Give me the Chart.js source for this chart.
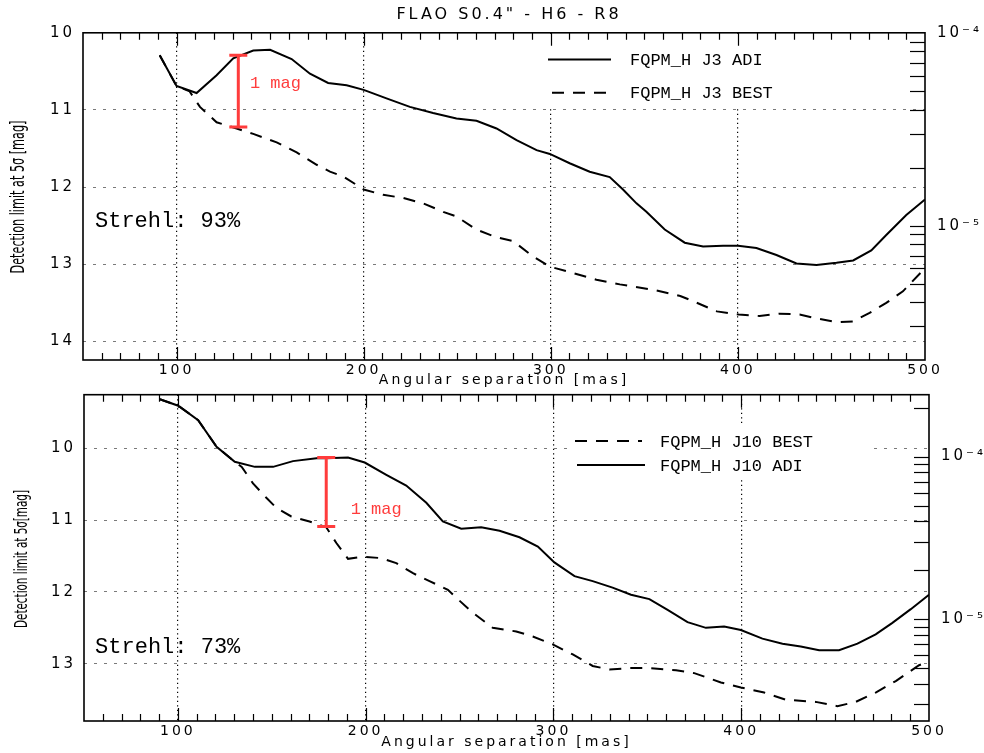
<!DOCTYPE html>
<html><head><meta charset="utf-8">
<script src="https://cdn.jsdelivr.net/npm/chart.js@4"></script>
<style>
html,body{margin:0;padding:0;background:#fff;}
#wrap{position:relative;width:984px;height:753px;}
canvas{position:absolute;left:0;top:0;}
</style></head><body>
<div id="wrap"><canvas id="cTop" width="984" height="753"></canvas><canvas id="cBot" width="984" height="753"></canvas></div>
<script>
// ---------- shared ----------
const chartTitle = 'FLAO S0.4" - H6 - R8';
const xTitle = 'Angular separation [mas]';
const xRange = [50, 500];
const xTickValues = [100, 200, 300, 400, 500];
const rightLabelValues = [1e-4, 1e-5];
const rightLabels = ['10\u207B\u2074', '10\u207B\u2075'];

// ---------- top panel (Strehl 93%) ----------
const topYTitle = 'Detection limit at 5\u03C3 [mag]';
const topStrehl = 'Strehl: 93%';
const topLabels = ['FQPM_H J3 ADI', 'FQPM_H J3 BEST'];
const topMagRange = [10, 14.24];
const topMagTicks = [10, 11, 12, 13, 14];
const topContrastRange = [2.01e-6, 1e-4];
const topAdiSep = [91, 100, 110.7, 121.4, 130.3, 141, 150, 161.5, 171.3, 181, 190.9, 200, 212.2, 224.7, 237.1, 249.6, 260.3, 271, 281.7, 292.4, 299.5, 310.1, 320.8, 331.5, 338.6, 345.8, 351.1, 360.9, 371.6, 381.4, 392.1, 400.1, 409.9, 420.6, 431.3, 442, 452.7, 461.6, 471.3, 479.3, 490, 500];
const topAdiMag = [10.29, 10.69, 10.78, 10.55, 10.33, 10.23, 10.22, 10.34, 10.53, 10.65, 10.68, 10.74, 10.85, 10.96, 11.04, 11.11, 11.14, 11.24, 11.39, 11.52, 11.57, 11.69, 11.80, 11.87, 12.03, 12.21, 12.32, 12.55, 12.72, 12.77, 12.76, 12.76, 12.79, 12.88, 12.99, 13.01, 12.98, 12.95, 12.82, 12.62, 12.36, 12.16];
const topBestSep = [91, 100, 107, 112.5, 121.4, 132.1, 141, 153.5, 164.2, 174.9, 182, 189, 200, 210.4, 221.1, 231.8, 242.5, 249.6, 260.3, 271, 279.9, 290.6, 299.5, 310.1, 324.4, 336.9, 354.7, 369.2, 376.3, 388.8, 400.4, 411.6, 422.3, 433, 441.9, 452.6, 461.5, 470.4, 479.3, 488.2, 500];
const topBestMag = [10.29, 10.69, 10.76, 10.96, 11.16, 11.24, 11.31, 11.42, 11.55, 11.71, 11.80, 11.86, 12.03, 12.10, 12.14, 12.21, 12.32, 12.38, 12.55, 12.65, 12.70, 12.90, 13.03, 13.10, 13.20, 13.26, 13.33, 13.41, 13.48, 13.61, 13.65, 13.67, 13.64, 13.65, 13.70, 13.75, 13.74, 13.63, 13.50, 13.35, 13.05];
const topBar = [133, 10.29, 11.22];      // separation, mag from, mag to
const topBarLabelPos = [139.2, 10.66];
const topStrehlPos = [56.4, 12.44];

// ---------- bottom panel (Strehl 73%) ----------
const botYTitle = 'Detection limit at 5\u03C3[mag]';
const botStrehl = 'Strehl: 73%';
const botLabels = ['FQPM_H J10 BEST', 'FQPM_H J10 ADI'];
const botMagRange = [9.256, 13.796];
const botMagTicks = [10, 11, 12, 13];
const botContrastRange = [2.37e-6, 2.4e-4];
const botBestSep = [90.4, 100.2, 110.8, 120.6, 130.3, 134, 140, 147.1, 152.4, 160.4, 170.1, 179, 184.4, 190.6, 198.6, 208.4, 216.3, 225.2, 234, 243.8, 248.2, 257.1, 267.7, 280.2, 289, 299.6, 310.3, 320.9, 329.8, 340.4, 351.1, 365.3, 375, 389.2, 399.8, 412.2, 423.8, 439.7, 451.2, 461, 471.6, 482.3, 494.7, 499];
const botBestMag = [9.32, 9.41, 9.61, 9.98, 10.19, 10.26, 10.49, 10.69, 10.83, 10.95, 11.02, 11.10, 11.32, 11.54, 11.51, 11.53, 11.60, 11.74, 11.85, 11.97, 12.08, 12.29, 12.50, 12.55, 12.62, 12.73, 12.87, 13.03, 13.08, 13.06, 13.06, 13.09, 13.13, 13.26, 13.33, 13.40, 13.50, 13.53, 13.59, 13.53, 13.40, 13.24, 13.02, 12.98];
const botAdiSep = [90.4, 100.2, 110.8, 120.6, 130.3, 141, 150.7, 161.3, 173.8, 179, 190.6, 199.5, 211, 221.6, 232.3, 241.1, 250.9, 261.5, 271.3, 281.9, 291.7, 300.5, 311.2, 320.9, 331.5, 341.3, 351.1, 360.8, 371.4, 381.2, 390.9, 399.8, 411.3, 422, 431.7, 441.5, 452.1, 461.9, 471.6, 480.5, 490.3, 500];
const botAdiMag = [9.32, 9.41, 9.61, 9.98, 10.19, 10.26, 10.26, 10.18, 10.14, 10.14, 10.13, 10.20, 10.37, 10.52, 10.76, 11.02, 11.12, 11.10, 11.15, 11.24, 11.37, 11.59, 11.78, 11.85, 11.94, 12.04, 12.10, 12.25, 12.42, 12.50, 12.48, 12.53, 12.65, 12.72, 12.76, 12.81, 12.81, 12.72, 12.59, 12.43, 12.24, 12.04];
const botBar = [179, 10.13, 11.09];
const botBarLabelPos = [192, 10.86];
const botStrehlPos = [55.9, 12.77];

// ---------- helpers ----------
const RED = '#ff3c3c';
const SOLID = [];
const DASH = [12, 9];
function pts(xs, ys) { return xs.map((x, i) => ({x: x, y: ys[i]})); }
function lineDs(label, xs, ys, dash) {
  return {label: label, data: pts(xs, ys), borderColor: '#000', borderWidth: 2,
          borderDash: dash, pointRadius: 0, tension: 0, fill: false, yAxisID: 'y'};
}
function rightMinorValues(range) {
  const v = [];
  for (let e = -7; e <= -3; e++) for (let m = 1; m <= 9; m++) {
    const val = m * Math.pow(10, e);
    if (val > range[0] * 1.0001 && val < range[1] * 0.9999) v.push(val);
  }
  return v;
}

function makePanel(id, p) {
  const plugin = {
    id: 'panel_' + id,
    beforeDraw(chart) { chart.ctx.letterSpacing = '3px'; },
    beforeDatasetsDraw(chart) {
      const {ctx, chartArea: a} = chart;
      const b = p.legendBox;
      ctx.save(); ctx.fillStyle = '#fff';
      ctx.fillRect(a.left + b[0], a.top + b[1], b[2], b[3]);
      ctx.restore();
    },
    afterDraw(chart) {
      const {ctx, chartArea: a} = chart;
      const sx = chart.scales.x, sy = chart.scales.y, s2 = chart.scales.y2;
      ctx.save();
      ctx.letterSpacing = '0px';
      ctx.setLineDash([]);
      ctx.strokeStyle = '#000';
      // x ticks (inward, top and bottom)
      ctx.lineWidth = 1.2;
      for (let v = xRange[0] + 10; v < xRange[1]; v += 10) {
        const px = Math.round(sx.getPixelForValue(v)) + 0.5;
        const len = (v % 100 === 0) ? 13 : 7;
        ctx.beginPath();
        ctx.moveTo(px, a.top); ctx.lineTo(px, a.top + len);
        ctx.moveTo(px, a.bottom); ctx.lineTo(px, a.bottom - len);
        ctx.stroke();
      }
      // right log ticks (inward)
      for (const v of rightMinorValues(p.contrastRange)) {
        const py = Math.round(s2.getPixelForValue(v)) + 0.5;
        ctx.beginPath(); ctx.moveTo(a.right, py); ctx.lineTo(a.right - 15, py); ctx.stroke();
      }
      // frame
      ctx.lineWidth = 1.6;
      ctx.strokeRect(a.left, a.top, a.right - a.left, a.bottom - a.top);
      // legend
      ctx.font = '17px "Liberation Mono", "DejaVu Sans Mono", monospace';
      ctx.fillStyle = '#000';
      ctx.textBaseline = 'middle';
      ctx.textAlign = 'left';
      p.legend.forEach((L) => {
        const ds = chart.data.datasets[L.ds];
        ctx.save();
        ctx.lineWidth = 2;
        ctx.setLineDash(ds.borderDash);
        ctx.beginPath();
        ctx.moveTo(a.left + L.x0, a.top + L.y);
        ctx.lineTo(a.left + L.x1, a.top + L.y);
        ctx.stroke();
        ctx.restore();
        ctx.fillText(ds.label, a.left + p.legendTextX, a.top + L.y + 1);
      });
      // 1 mag bar
      const bx = sx.getPixelForValue(p.bar[0]);
      const by1 = sy.getPixelForValue(p.bar[1]);
      const by2 = sy.getPixelForValue(p.bar[2]);
      ctx.strokeStyle = RED; ctx.lineWidth = 3;
      ctx.beginPath();
      ctx.moveTo(bx, by1); ctx.lineTo(bx, by2);
      ctx.moveTo(bx - 9, by1); ctx.lineTo(bx + 9, by1);
      ctx.moveTo(bx - 9, by2); ctx.lineTo(bx + 9, by2);
      ctx.stroke();
      ctx.fillStyle = RED;
      ctx.font = '17px "Liberation Mono", "DejaVu Sans Mono", monospace';
      ctx.fillText('1 mag', sx.getPixelForValue(p.barLabelPos[0]), sy.getPixelForValue(p.barLabelPos[1]));
      // Strehl
      ctx.fillStyle = '#000';
      ctx.font = '22px "Liberation Mono", "DejaVu Sans Mono", monospace';
      ctx.fillText(p.strehl, sx.getPixelForValue(p.strehlPos[0]), sy.getPixelForValue(p.strehlPos[1]));
      // y axis title (condensed)
      ctx.save();
      ctx.translate(p.yTitlePos[0], p.yTitlePos[1]);
      ctx.rotate(-Math.PI / 2);
      ctx.textAlign = 'center';
      ctx.textBaseline = 'middle';
      ctx.font = p.yTitleFont;
      const w = ctx.measureText(p.yTitle).width;
      ctx.scale(p.yTitleLen / w, 1);
      ctx.fillText(p.yTitle, 0, 0);
      ctx.restore();
      ctx.restore();
    }
  };

  return new Chart(document.getElementById(id), {
    type: 'line',
    data: {datasets: p.datasets},
    plugins: [plugin],
    options: {
      responsive: false,
      animation: false,
      devicePixelRatio: 1,
      events: [],
      layout: {padding: p.padding},
      plugins: {
        legend: {display: false},
        tooltip: {enabled: false},
        title: p.title ? {display: true, text: p.title, color: '#000',
                 font: {family: 'DejaVu Sans', size: 16, weight: 'normal'},
                 padding: {top: 5, bottom: 8.6}} : {display: false}
      },
      scales: {
        x: {
          type: 'linear', position: 'bottom', min: xRange[0], max: xRange[1],
          afterBuildTicks: (s) => { s.ticks = xTickValues.map(v => ({value: v})); },
          afterFit: (s) => { s.height = 32; s.paddingLeft = 0; s.paddingRight = 0; },
          ticks: {padding: 2, color: '#000', maxRotation: 0, autoSkip: false,
                  font: {family: 'DejaVu Sans', size: 14}, callback: (v) => String(v)},
          grid: {color: (c) => (c.tick && c.tick.value >= xRange[1]) ? 'rgba(0,0,0,0)' : '#000',
                 lineWidth: 1.2, drawTicks: false},
          border: {display: false, dash: [1.2, 3.3]},
          title: {display: true, text: xTitle, color: '#000',
                  font: {family: 'DejaVu Sans', size: 14}, padding: {top: 0, bottom: p.xTitlePad}}
        },
        y: {
          type: 'linear', position: 'left', reverse: true, min: p.magRange[0], max: p.magRange[1],
          afterBuildTicks: (s) => { s.ticks = p.magTicks.map(v => ({value: v})); },
          afterFit: (s) => { s.width = p.yWidth; s.paddingTop = 0; s.paddingBottom = 0; },
          ticks: {padding: 8, color: '#000', font: {family: 'DejaVu Sans', size: 15},
                  callback: (v) => String(v)},
          grid: {color: '#7a7a7a', lineWidth: 1, drawTicks: false},
          border: {display: false, dash: [3, 7]}
        },
        y2: {
          type: 'logarithmic', position: 'right', min: p.contrastRange[0], max: p.contrastRange[1],
          afterBuildTicks: (s) => { s.ticks = rightLabelValues.map(v => ({value: v})); },
          afterFit: (s) => { s.width = p.y2Width; s.paddingTop = 0; s.paddingBottom = 0; },
          ticks: {padding: 12, color: '#000', font: {family: 'DejaVu Sans', size: 15},
                  callback: (v, i) => rightLabels[i]},
          grid: {drawOnChartArea: false, drawTicks: false},
          border: {display: false}
        }
      }
    }
  });
}

makePanel('cTop', {
  title: chartTitle,
  padding: {top: 0, left: 34, right: 0, bottom: 361},
  yWidth: 49, y2Width: 59, xTitlePad: 3,
  magRange: topMagRange, magTicks: topMagTicks, contrastRange: topContrastRange,
  datasets: [lineDs(topLabels[0], topAdiSep, topAdiMag, SOLID),
             lineDs(topLabels[1], topBestSep, topBestMag, DASH)],
  legendBox: [457, 1, 365, 73],
  legend: [{ds: 0, x0: 465, x1: 528, y: 26.6}, {ds: 1, x0: 469, x1: 528, y: 60}],
  legendTextX: 547,
  bar: topBar, barLabelPos: topBarLabelPos,
  strehl: topStrehl, strehlPos: topStrehlPos,
  yTitle: topYTitle, yTitlePos: [19, 197], yTitleLen: 153,
  yTitleFont: '19px "Liberation Sans Narrow", "DejaVu Sans Condensed", sans-serif'
});

makePanel('cBot', {
  title: null,
  padding: {top: 394.7, left: 34, right: 0, bottom: 0},
  yWidth: 50, y2Width: 55, xTitlePad: 2,
  magRange: botMagRange, magTicks: botMagTicks, contrastRange: botContrastRange,
  datasets: [lineDs(botLabels[0], botBestSep, botBestMag, DASH),
             lineDs(botLabels[1], botAdiSep, botAdiMag, SOLID)],
  legendBox: [488, 29, 302, 55],
  legend: [{ds: 0, x0: 491, x1: 558, y: 46.3}, {ds: 1, x0: 493, x1: 561, y: 70.3}],
  legendTextX: 576,
  bar: botBar, barLabelPos: botBarLabelPos,
  strehl: botStrehl, strehlPos: botStrehlPos,
  yTitle: botYTitle, yTitlePos: [22, 559], yTitleLen: 138,
  yTitleFont: '18px "Liberation Sans Narrow", "DejaVu Sans Condensed", sans-serif'
});
</script>
</body></html>
